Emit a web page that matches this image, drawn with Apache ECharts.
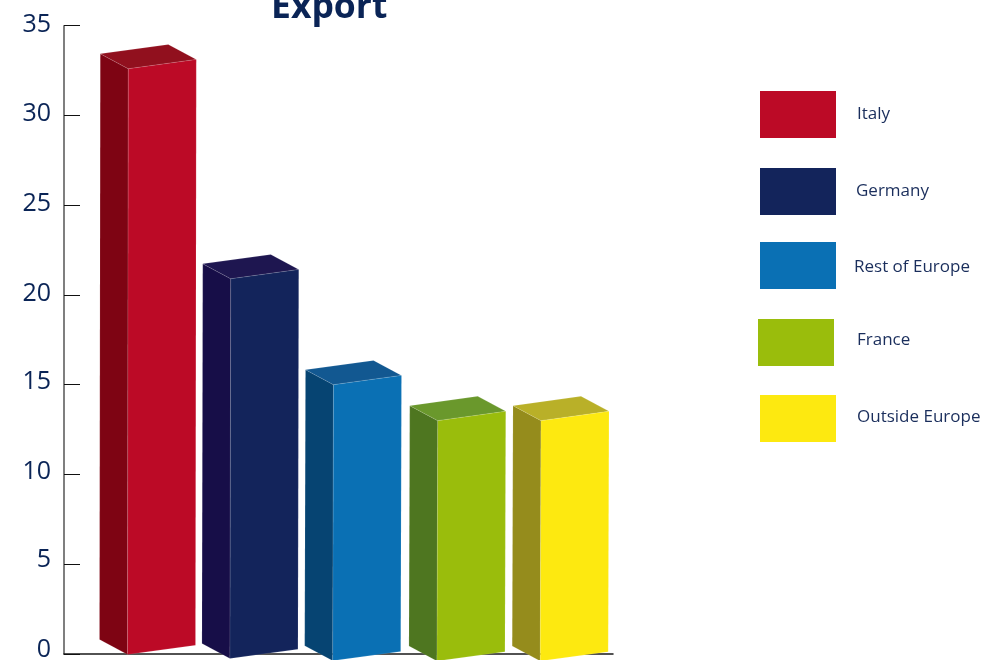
<!DOCTYPE html>
<html>
<head>
<meta charset="utf-8">
<title>Export</title>
<style>html,body{margin:0;padding:0;background:#fff}#chart{width:985px;height:660px}</style>
<script src="https://cdn.jsdelivr.net/npm/echarts@6/dist/echarts.min.js"></script>
</head>
<body>
<div id="chart"></div>
<script>
// Export share by destination
const categories = ['Italy', 'Germany', 'Rest of Europe', 'France', 'Outside Europe'];
const exportValues = [32.6, 20.9, 15, 13, 13];
const yTicks = [0, 5, 10, 15, 20, 25, 30, 35];

// Face colours of each block: front, left side, top
const frontColors = ['#BC0A26', '#13245B', '#0A70B4', '#9ABD0C', '#FDE910'];
const sideColors = ['#7E0413', '#170E48', '#064472', '#4E7620', '#958C1C'];
const topColors = ['#91101E', '#1E1650', '#125891', '#6A982C', '#B9B028'];

// How far each block's foot hangs below the axis, and its sideways shift, in pixels
const footDrop = [0.5, 4.5, 6.7, 7, 7];
const blockShift = [0.3, -0.5, -1, 0, 0];

// Block projection, in pixels
const FRONT_W = 68, DEPTH_X = -28, DEPTH_Y = -15, SLOPE = -9.3, LEAN = -0.8;

// Legend swatch placement; text nudges are twice the vertical shift (positive lifts the text)
const legendLefts = [760, 760, 760, 758, 760];
const legendTops = [91, 168, 242, 319, 395];
const legendTextGaps = [16, 15, 13, 18, 16];
const legendTextLift = [0, 0, -4, 4, 2];

// Tick label nudges, one per entry of yTicks, same convention as the legend text
const tickLabelLift = [9, 8, 5, 5, 3, 3, 3, 1];

function face(points, fill) {
  return {
    type: 'polygon',
    shape: { points },
    style: { fill, stroke: 'rgba(255,255,255,0.16)', lineWidth: 0.7 },
    silent: true
  };
}

function renderBlock(params, api) {
  const i = params.seriesIndex;
  const top = api.coord([api.value(0), api.value(1)]);
  const base = api.coord([api.value(0), 0]);
  const x = top[0] - FRONT_W / 2 + blockShift[i];
  const yTop = top[1];
  const yFoot = base[1] + footDrop[i];
  const fl = [x, yTop];
  const fr = [x + FRONT_W, yTop + SLOPE];
  const bl = [x + LEAN, yFoot];
  const br = [x + FRONT_W + LEAN, yFoot + SLOPE];
  const back = p => [p[0] + DEPTH_X, p[1] + DEPTH_Y];
  return {
    type: 'group',
    children: [
      face([back(fl), fl, bl, back(bl)], sideColors[i]),
      face([back(fl), back(fr), fr, fl], topColors[i]),
      face([fl, fr, br, bl], frontColors[i])
    ]
  };
}

// One rich style per tick label, so each can carry its own nudge
const tickLabelRich = {};
yTicks.forEach((tick, i) => {
  tickLabelRich['t' + tick] = {
    fontFamily: 'Open Sans',
    fontSize: 25,
    color: '#0A2456',
    padding: [0, 0, tickLabelLift[i], 0]
  };
});

const chart = echarts.init(document.getElementById('chart'));
chart.setOption({
  animation: false,
  backgroundColor: '#ffffff',
  title: {
    text: 'Export',
    left: 266,
    top: -15,
    textStyle: { fontFamily: 'Open Sans', fontWeight: 'bold', fontSize: 35.5, color: '#0A2456' }
  },
  grid: { left: 64, right: 372, top: 25.7, bottom: 6, outerBoundsMode: 'none' },
  xAxis: {
    type: 'value',
    min: -0.949,
    max: 4.368,
    splitLine: { show: false },
    axisLabel: { show: false },
    axisTick: { show: false },
    axisLine: { show: true, onZero: false, lineStyle: { color: '#1a1a1a', width: 1.5 } }
  },
  yAxis: {
    type: 'value',
    min: yTicks[0],
    max: yTicks[yTicks.length - 1],
    interval: yTicks[1] - yTicks[0],
    splitLine: { show: false },
    axisLine: { show: true, onZero: false, lineStyle: { color: '#555555', width: 1.5 } },
    axisTick: { show: true, inside: true, length: 16, lineStyle: { color: '#111111', width: 1 } },
    axisLabel: {
      margin: 13,
      formatter: value => '{t' + value + '|' + value + '}',
      rich: tickLabelRich
    }
  },
  legend: categories.map((name, i) => ({
    data: [name],
    left: legendLefts[i],
    top: legendTops[i],
    padding: 0,
    itemWidth: 76,
    itemHeight: 47,
    icon: 'rect',
    selectedMode: false,
    formatter: '{t|{name}}',
    textStyle: {
      rich: {
        t: {
          fontFamily: 'Open Sans',
          fontSize: 17,
          color: '#1A2E5C',
          padding: [Math.max(0, -legendTextLift[i]), 0, Math.max(0, legendTextLift[i]), legendTextGaps[i]]
        }
      }
    }
  })),
  series: categories.map((name, i) => ({
    name,
    type: 'custom',
    renderItem: renderBlock,
    itemStyle: { color: frontColors[i] },
    data: [[i, exportValues[i]]],
    z: 3
  }))
});
</script>
</body>
</html>
